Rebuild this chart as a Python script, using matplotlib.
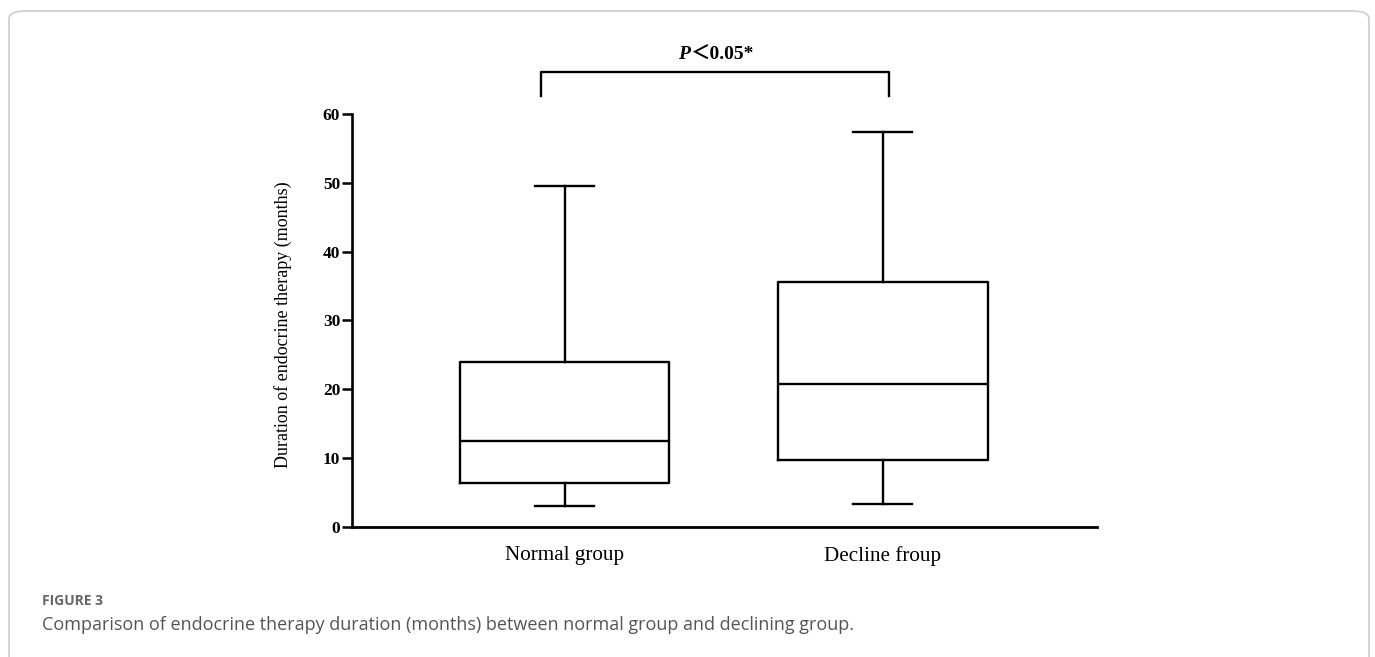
import matplotlib

matplotlib.use('Agg')
import matplotlib.pyplot as plt
from matplotlib.patches import FancyBboxPatch

# values (months)
groups = ['Normal group', 'Decline froup']
whisker_low = [3.0, 3.3]
q1 = [6.3, 9.7]
median = [12.5, 20.7]
q3 = [23.9, 35.6]
whisker_high = [49.5, 57.4]
y_ticks = [0, 10, 20, 30, 40, 50, 60]

sig_text = '0.05*'

serif = ['Liberation Serif', 'DejaVu Serif']

fig = plt.figure(figsize=(13.75, 6.57), dpi=100)
ax = fig.add_axes([0.256, 0.1986, 0.542, 0.6274])

stats = []
for i in range(len(groups)):
    stats.append({'med': median[i], 'q1': q1[i], 'q3': q3[i],
                  'whislo': whisker_low[i], 'whishi': whisker_high[i],
                  'fliers': [], 'label': groups[i]})

lw = 1.7
ax.bxp(stats, positions=[1, 2], widths=0.658, capwidths=0.185,
       showfliers=False,
       boxprops=dict(color='black', linewidth=lw),
       whiskerprops=dict(color='black', linewidth=lw),
       capprops=dict(color='black', linewidth=lw),
       medianprops=dict(color='black', linewidth=lw))

ax.set_xlim(0.331, 2.674)
ax.set_ylim(0, 60)
ax.set_yticks(y_ticks)
ax.spines['top'].set_visible(False)
ax.spines['right'].set_visible(False)
ax.spines['left'].set_linewidth(1.9)
ax.spines['bottom'].set_linewidth(2.0)
ax.tick_params(axis='y', length=7, width=1.8, pad=1.5)
ax.tick_params(axis='x', length=0, pad=14)

for lab in ax.get_yticklabels():
    lab.set_fontfamily(serif)
    lab.set_fontweight('bold')
    lab.set_fontsize(12.5)
for lab in ax.get_xticklabels():
    lab.set_fontfamily(serif)
    lab.set_fontsize(15.2)

ax.set_ylabel('Duration of endocrine therapy (months)', fontsize=13,
              family=serif)
ax.yaxis.set_label_coords(-0.081, 0.49)

# significance bracket
ax.plot([0.925, 0.925, 2.02, 2.02], [62.7, 66.2, 66.2, 62.7],
        color='black', linewidth=1.7, clip_on=False)
ax.text(1.393, 68.0, 'P', fontsize=14, family=serif, fontweight='bold',
        style='italic', ha='right', va='baseline', clip_on=False)
ax.text(1.393, 68.0, '\uff1c' + sig_text, fontsize=14,
        family=['Liberation Serif', 'Noto Sans CJK SC'], fontweight='bold',
        ha='left', va='baseline', clip_on=False)

# frame and caption of the page
frame = FancyBboxPatch((9 / 1375, -0.1), 1360 / 1375, 1.1 - 11 / 657,
                       boxstyle='round,pad=0,rounding_size=0.012',
                       transform=fig.transFigure, facecolor='none',
                       edgecolor='#cccccc', linewidth=1.2)
fig.patches.append(frame)

fig.text(41.7 / 1375, 1 - 601 / 657, 'FIGURE 3', fontsize=10,
         family=['Open Sans', 'DejaVu Sans'], fontweight='bold',
         color='#666666', va='center')
fig.text(41.7 / 1375, 1 - 625 / 657,
         'Comparison of endocrine therapy duration (months) between normal group and declining group.',
         fontsize=13, family=['Open Sans', 'DejaVu Sans'],
         color='#555555', va='center')

fig.savefig('out.png', dpi=100)
plt.close(fig)
